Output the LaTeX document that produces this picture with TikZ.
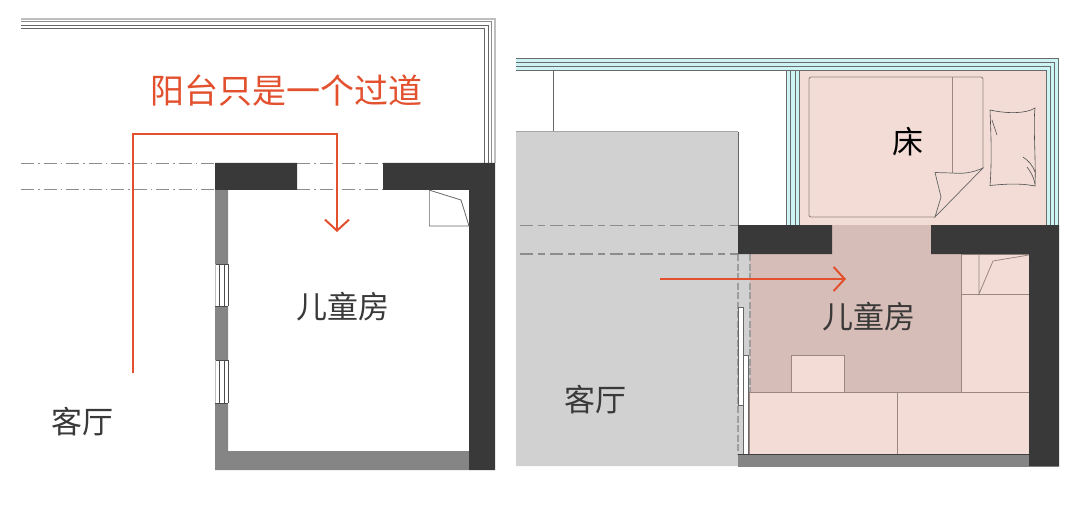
\documentclass[tikz,border=0pt]{standalone}
\usepackage{fontspec}
\usetikzlibrary{arrows.meta}
\newfontfamily\cjk{Noto Sans CJK SC}
\definecolor{wallDark}{HTML}{393939}
\definecolor{wallGray}{HTML}{858585}
\definecolor{routeRed}{HTML}{E2502E}
\definecolor{glassBlue}{HTML}{CDF4F4}
\definecolor{roomPink}{HTML}{F2DCD5}
\definecolor{roomRose}{HTML}{D7BDB7}
\definecolor{hallGray}{HTML}{D1D1D1}
\definecolor{fitLine}{HTML}{9C8780}
\tikzset{
  route/.style={draw=routeRed, line width=2pt, -{Straight Barb[length=11pt,width=24pt,line width=2pt]}},
  label/.style={font=\cjk\fontsize{31}{31}\selectfont, text=wallDark, inner sep=0pt},
  axis/.style={draw=black!45, line width=0.8pt, dash pattern=on 13pt off 4pt on 1.5pt off 4pt},
  dashline/.style={draw=black!45, line width=1.1pt, dash pattern=on 13pt off 5pt on 7pt off 5pt},
  doorline/.style={draw=black!38, line width=1.4pt, dash pattern=on 7pt off 2.5pt},
  glass/.style={draw=black!58, line width=0.7pt},
  fit/.style={draw=fitLine, line width=0.8pt, fill=roomPink}
}
\begin{document}
\begin{tikzpicture}[x=1pt, y=-1pt]
\useasboundingbox (0,0) rectangle (1081,505);
% left plan
\draw[black!25, line width=1.6pt] (21,19) -- (495,19) -- (495,163);
\draw[black!45, line width=1pt] (21,22) -- (491.5,22) -- (491.5,163);
\draw[black!60, line width=1pt] (21,25.5) -- (488,25.5) -- (488,163);
\draw[black!60, line width=1pt] (21,28.5) -- (484.5,28.5) -- (484.5,163);
\draw[axis] (21,163.5) -- (215,163.5) (297,163.5) -- (383,163.5);
\draw[axis] (21,189.5) -- (215,189.5) (297,189.5) -- (383,189.5);
\fill[wallGray] (215,190) rectangle (228,470) (215,451) rectangle (469,470);
\foreach \top/\bottom in {264/306, 360/403} {
  \fill[white] (215,\top) rectangle (228,\bottom);
  \draw[black!70, line width=0.7pt] (215,\top) -- (228,\top) (215,\bottom) -- (228,\bottom)
        (219.5,\top) -- (219.5,\bottom) (224,\top) -- (224,\bottom) (228,\top) -- (228,\bottom);
  \draw[black!25, line width=1pt] (215.5,\top) -- (215.5,\bottom);
}
\fill[wallDark] (215,163) rectangle (297,190)
                (383,163) rectangle (495,190)
                (469,163) rectangle (495,470);
\draw[black!40, line width=0.9pt] (429,190) -- (429,226);
\draw[black!60, line width=0.8pt] (429,226) -- (469,226) -- (461,200) -- (429,190);
\coordinate (routeStart) at (133,373);
\coordinate (routeEnd) at (337,232);
\draw[route] (routeStart) -- (133,134) -- (337,134) -- (routeEnd);
\node[label, text=routeRed, font=\cjk\fontsize{34}{34}\selectfont] (passage) at (286,91) {阳台只是一个过道};
\node[label] (roomLeft) at (342.5,307) {儿童房};
\node[label] (hallLeft) at (82.5,422) {客厅};
% right plan
\fill[glassBlue] (516,58.5) rectangle (1059,70.5)
                 (1046.5,58.5) rectangle (1059,225)
                 (786,70) rectangle (799,225);
\draw[glass] (516,58.5) -- (1058.5,58.5) -- (1058.5,225);
\draw[glass] (516,62) -- (1054,62) -- (1054,225);
\draw[glass] (516,66.5) -- (1050,66.5) -- (1050,225);
\draw[glass] (516,70.5) -- (1046.5,70.5) -- (1046.5,225);
\foreach \x in {786.5, 790, 795, 799} {
  \draw[glass] (\x,70.5) -- (\x,225);
}
\draw[black!60, line width=0.8pt] (553,70.5) -- (553,132);
\fill[roomPink] (800,71) rectangle (1046,225);
\fill[hallGray] (516,132) rectangle (738,466) (738,254) rectangle (750,454);
\draw[black!35, line width=1pt] (516,132) -- (738,132);
\draw[black!60, line width=0.7pt] (738,132) -- (738,225);
\fill[roomRose] (750,254) rectangle (1029,392) (832,225) rectangle (931,254);
\draw[fit] (961,254) rectangle (1029,392);
\draw[fit] (961,254) rectangle (1029,294);
\draw[fitLine, line width=0.8pt] (979,254) -- (979,294) -- (993,261) -- (1029,255);
\draw[fit] (791,355) rectangle (844,392);
\draw[fit] (749,392) rectangle (897,454);
\draw[fit] (897,392) rectangle (1029,454);
\draw[fitLine, line width=0.9pt, rounded corners=2pt] (935,217) -- (809,217) -- (809,77) -- (983,77) -- (983,168);
\draw[fitLine, line width=1pt] (952,77) -- (952,173);
\draw[black!60, line width=0.7pt] (983,168) .. controls (972,173) and (962,174) .. (952,173) -- (935,172.5)
      -- (941,197) -- (935,217) -- cycle;
\draw[black!70, line width=0.6pt] (990,110) .. controls (1003,113) and (1020,114) .. (1031,110)
      -- (1035,108) .. controls (1033,125) and (1036,160) .. (1035,186)
      .. controls (1020,183) and (1005,184) .. (990,185.5)
      .. controls (992,160) and (991,135) .. (990,110);
\draw[black!70, line width=0.6pt] (992,120) -- (997,135)
      (1023,157) .. controls (1029,161) and (1033,166) .. (1035,172)
      (1027,167) .. controls (1031,172) and (1034,178) .. (1035,184);
\draw[doorline] (738,254) -- (738,454) (750,254) -- (750,392);
\draw[black!60, fill=white, line width=0.8pt] (738,307) rectangle (743.5,405);
\draw[black!60, fill=white, line width=0.8pt] (743.5,355) rectangle (748.5,454);
\draw[dashline] (520,225.5) -- (738,225.5);
\draw[dashline] (520,254) -- (738,254);
\fill[wallGray] (738,454) rectangle (1029,466.5);
\draw[black!75, line width=0.7pt] (738,454) -- (1029,454);
\fill[wallDark] (738,225) rectangle (832,254)
                (931,225) rectangle (1059,254)
                (1029,225) rectangle (1059,466.5);
\coordinate (entryStart) at (660,279);
\coordinate (entryEnd) at (846,279);
\draw[route] (entryStart) -- (entryEnd);
\node[label, text=black] (bed) at (908,142) {床};
\node[label] (roomRight) at (869,317) {儿童房};
\node[label] (hallRight) at (595,400) {客厅};
\end{tikzpicture}
\end{document}
